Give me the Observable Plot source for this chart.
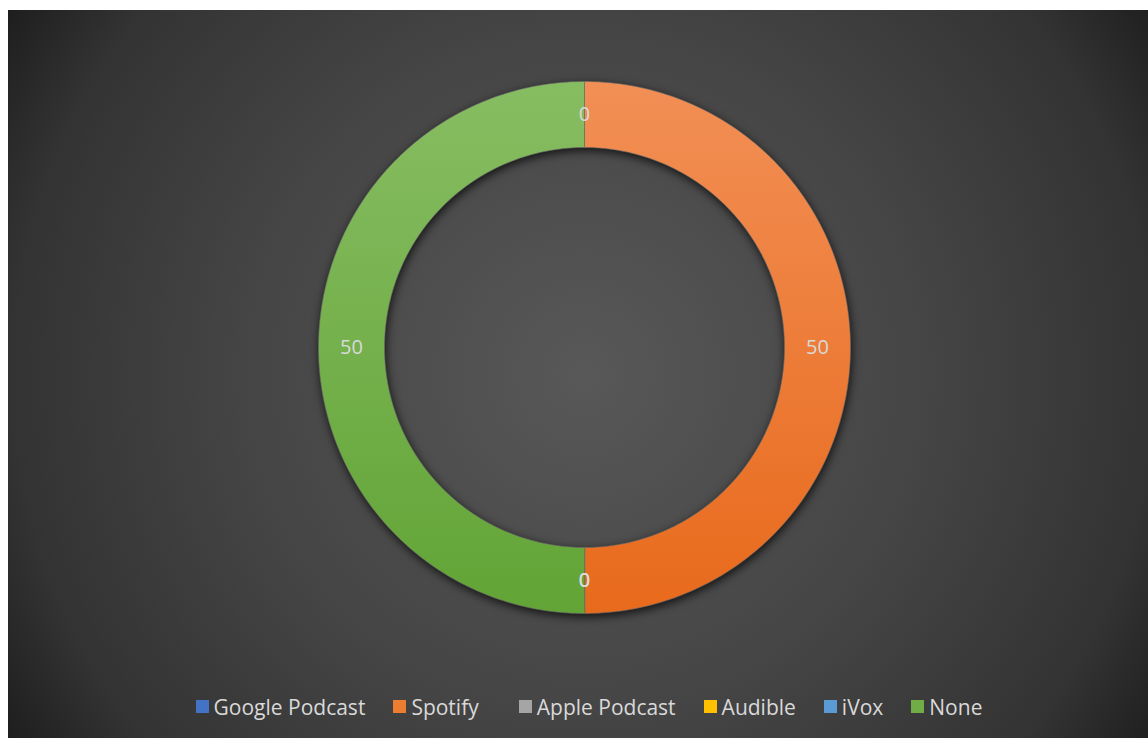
<!DOCTYPE html>
<html>
<head>
<meta charset="utf-8">
<script src="https://cdn.jsdelivr.net/npm/d3@7"></script>
<script src="https://cdn.jsdelivr.net/npm/@observablehq/plot@0.6"></script>
<style>
  html, body { margin: 0; padding: 0; background: #ffffff; overflow: hidden; }
  #chart {
    position: absolute; left: 8px; top: 10px; width: 1152px; height: 728px;
    background: radial-gradient(circle farthest-corner at 50% 50%, #585858 0%, #454545 50%, #333333 84%, #1e1e1e 100%);
    font-family: "Open Sans", "Noto Sans", sans-serif;
  }
  #chart svg g[aria-label="geo"] { filter: drop-shadow(1px 3px 5px rgba(0,0,0,0.75)); }
  #legend { position: absolute; left: 0; top: 680px; width: 1152px; display: flex; justify-content: center; padding-left: 10px; box-sizing: border-box; }
  #legend .lg-swatches { justify-content: center; margin: 0 !important; }
  #legend .lg-swatch { margin-right: 28px !important; }
  #legend .lg-swatch:nth-of-type(2) { margin-right: 40px !important; }
  #legend .lg-swatch:last-of-type { margin-right: 0 !important; }
  #legend .lg-swatch > svg { margin-right: 5px !important; }
</style>
</head>
<body>
<div id="chart"><div id="plot"></div><div id="legend"></div></div>
<script>
// ---- data ----
const categories = ["Google Podcast", "Spotify", "Apple Podcast", "Audible", "iVox", "None"];
const values = [0, 50, 0, 0, 0, 50];
const colors = ["#4472c4", "#ed7d31", "#a5a5a5", "#ffc000", "#5b9bd5", "#70ad47"];
const gradTop = ["#6f93d6", "#f28f55", "#bdbdbd", "#ffd24d", "#7fb3e0", "#87bd62"];
const gradBottom = ["#3a65b5", "#e86a1c", "#959595", "#f0b400", "#4a8bc8", "#62a436"];

// ---- geometry derived from data (unit circle; identity projection) ----
const R = 1, r = 200 / 266;
const pie = d3.pie().sort(null).value(d => d.value).startAngle(0).endAngle(2 * Math.PI);
const slices = pie(categories.map((c, i) => ({category: c, value: values[i], i})));
function ringPolygon(a0, a1) {
  const n = Math.max(2, Math.ceil((a1 - a0) / (Math.PI / 180)));
  const pts = [];
  for (let k = 0; k <= n; k++) { const a = a0 + (a1 - a0) * k / n; pts.push([R * Math.sin(a), -R * Math.cos(a)]); }
  for (let k = n; k >= 0; k--) { const a = a0 + (a1 - a0) * k / n; pts.push([r * Math.sin(a), -r * Math.cos(a)]); }
  pts.push(pts[0]);
  return pts;
}
const features = slices.filter(s => s.data.value > 0).map(s => ({
  type: "Feature",
  properties: {category: s.data.category, fill: `url(#grad${s.data.i})`},
  geometry: {type: "Polygon", coordinates: [ringPolygon(s.startAngle, s.endAngle)]}
}));
const labels = slices.map(s => {
  const a = (s.startAngle + s.endAngle) / 2, rm = (R + r) / 2;
  return {x: rm * Math.sin(a), y: -rm * Math.cos(a), text: String(s.data.value)};
});
const domainSquare = {type: "Polygon", coordinates: [[[-R, -R], [R, -R], [R, R], [-R, R], [-R, -R]]]};

const plot = Plot.plot({
  width: 1152,
  height: 670,
  marginTop: 71,
  marginBottom: 67,
  marginLeft: 0,
  marginRight: 0,
  projection: {type: "identity", domain: domainSquare},
  color: {type: "identity"},
  style: {background: "transparent", fontFamily: "'Open Sans', 'Noto Sans', sans-serif", overflow: "visible"},
  marks: [
    Plot.geo(features, {fill: d => d.properties.fill, stroke: "#6b6b6b", strokeWidth: 0.6}),
    Plot.text(labels, {x: "x", y: "y", text: "text", fill: "#d9d9d9", fontSize: 20})
  ]
});

// gradient definitions
const svgNS = "http://www.w3.org/2000/svg";
const defs = document.createElementNS(svgNS, "defs");
categories.forEach((c, i) => {
  const lg = document.createElementNS(svgNS, "linearGradient");
  lg.setAttribute("id", `grad${i}`);
  lg.setAttribute("x1", "0"); lg.setAttribute("y1", "0");
  lg.setAttribute("x2", "0"); lg.setAttribute("y2", "1");
  [[0, gradTop[i]], [1, gradBottom[i]]].forEach(([o, col]) => {
    const st = document.createElementNS(svgNS, "stop");
    st.setAttribute("offset", o); st.setAttribute("stop-color", col);
    lg.appendChild(st);
  });
  defs.appendChild(lg);
});
plot.insertBefore(defs, plot.firstChild);
document.getElementById("plot").appendChild(plot);

const legend = Plot.legend({
  color: {type: "ordinal", domain: categories, range: colors},
  legend: "swatches",
  swatchSize: 13,
  className: "lg",
  style: {fontSize: "21px", color: "#d9d9d9", fontFamily: "'Open Sans', 'Noto Sans', sans-serif"}
});
document.getElementById("legend").appendChild(legend);
</script>
</body>
</html>
